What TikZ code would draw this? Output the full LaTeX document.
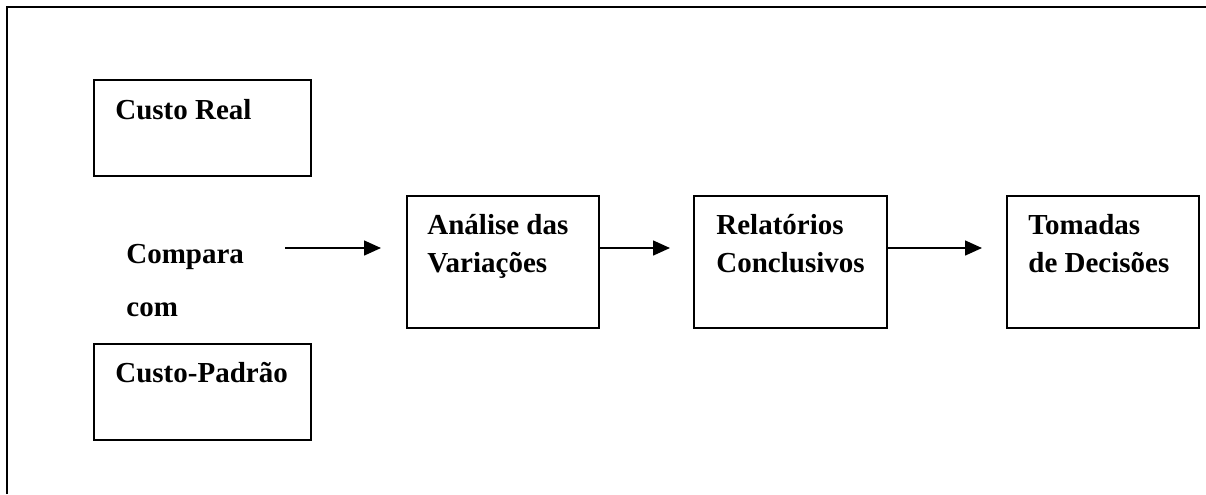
\documentclass[tikz,border=0pt]{standalone}
\usepackage{fontspec}
\setmainfont{Liberation Serif}
\usetikzlibrary{arrows.meta,calc}

\begin{document}
\begin{tikzpicture}[x=0.5pt, y=-0.5pt,
  box/.style={draw, line width=0.8pt, inner sep=0pt, anchor=north west},
  lbl/.style={anchor=base west, inner sep=0pt, align=left, font=\fontsize{14.5}{19}\selectfont\bfseries},
  flow/.style={line width=0.75pt, -{Triangle[length=8.5pt,width=7.5pt]}}]
  \useasboundingbox (0,0) rectangle (1206,494);

  % Draw frame (top and left edges)
  \draw[line width=1.15pt] (7,494) -- (7,7) -- (1206,7);

  % Draw the two cost boxes
  \node[box, minimum width=108.5pt, minimum height=48pt] (real) at (93,79) {};
  \node[lbl] (realtxt) at (115,119) {Custo Real};
  \node[box, minimum width=108.5pt, minimum height=48pt] (padrao) at (93,343) {};
  \node[lbl] (padraotxt) at (115,382) {Custo-Padrão};

  % Draw the comparison text
  \node[lbl] (compara) at (126,263) {Compara};
  \node[lbl] (com) at (126,316) {com};

  % Draw the process boxes (base of a two-line label is its last line)
  \node[box, minimum width=96pt, minimum height=66pt] (analise) at (406,195) {};
  \node[lbl] (analisetxt) at (427,272) {Análise das\\Variações};
  \node[box, minimum width=96.5pt, minimum height=66pt] (relat) at (693,195) {};
  \node[lbl] (relattxt) at (716,272) {Relatórios\\Conclusivos};
  \node[box, minimum width=96pt, minimum height=66pt] (decis) at (1006,195) {};
  \node[lbl] (decistxt) at (1028,272) {Tomadas\\de Decisões};

  % Draw the arrows
  \coordinate (lvl) at (0,248);
  \coordinate (cmpend) at (285,248);
  \draw[flow, shorten >=12.5pt] (cmpend) -- (analise.west |- lvl);
  \draw[flow, shorten >=11.5pt] (analise.east |- lvl) -- (relat.west |- lvl);
  \draw[flow, shorten >=12pt] (relat.east |- lvl) -- (decis.west |- lvl);
\end{tikzpicture}
\end{document}
